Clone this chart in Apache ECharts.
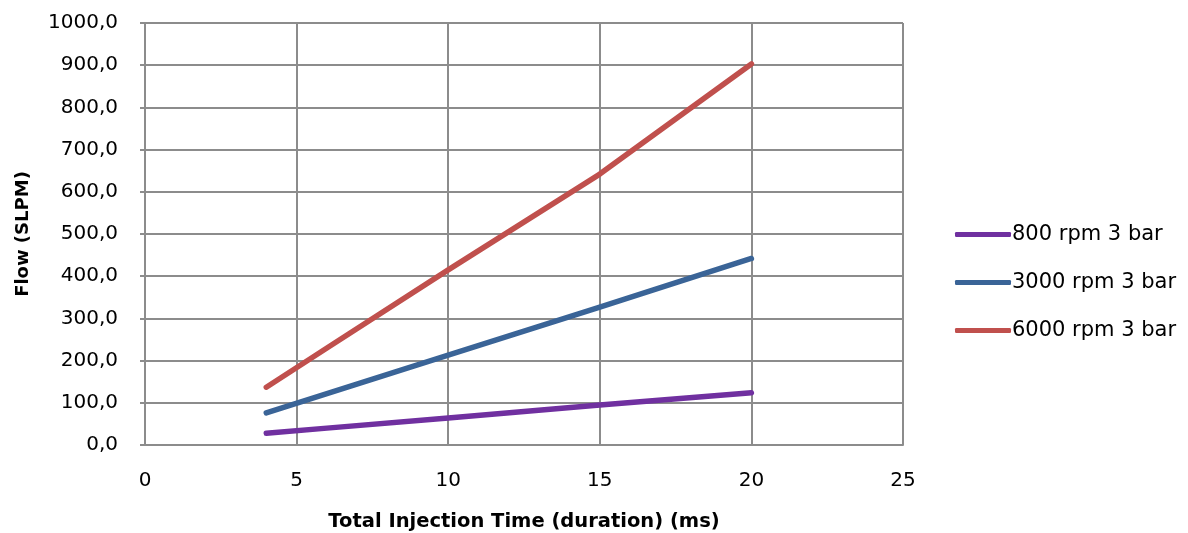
<!DOCTYPE html>
<html><head><meta charset="utf-8">
<script src="https://cdn.jsdelivr.net/npm/echarts@6/dist/echarts.min.js"></script>
<style>html,body{margin:0;padding:0;background:#fff}#c{width:1188px;height:533px}</style>
</head><body><div id="c"></div>
<script>
const times = [4, 6, 10, 15, 20];
const flow800 = [28, 40, 64, 95, 124];
const flow3000 = [76, 122, 213, 327, 442];
const flow6000 = [137, 230, 415, 642, 903];
const seriesNames = ['800 rpm 3 bar', '3000 rpm 3 bar', '6000 rpm 3 bar'];
const colors = ['#7030A0', '#3A6497', '#C0504D'];
const font = 'DejaVu Sans';
const pair = (ys) => times.map((t, i) => [t, ys[i]]);
const chart = echarts.init(document.getElementById('c'));
const mk = (name, ys, c) => ({
  name, type: 'line', data: pair(ys), showSymbol: false, symbol: 'none',
  lineStyle: { color: c, width: 5.5, cap: 'round', join: 'round' }, itemStyle: { color: c },
  animation: false
});
chart.setOption({
  animation: false,
  grid: { left: 145, right: 285, top: 23, bottom: 88, show: false, containLabel: false, outerBoundsMode: 'none' },
  xAxis: {
    type: 'value', min: 0, max: 25, interval: 5,
    name: 'Total Injection Time (duration) (ms)', nameLocation: 'middle', nameGap: 67,
    nameTextStyle: { fontFamily: font, fontSize: 19.5, fontWeight: 'bold', color: '#000' },
    axisLine: { show: true, lineStyle: { color: '#8c8c8c', width: 2 } },
    axisTick: { show: false },
    axisLabel: { fontFamily: font, fontSize: 20, color: '#000', margin: 26 },
    splitLine: { show: true, lineStyle: { color: '#8c8c8c', width: 2 } }
  },
  yAxis: {
    type: 'value', min: 0, max: 1000, interval: 100,
    name: 'Flow (SLPM)', nameLocation: 'middle', nameGap: 113, nameRotate: 90,
    nameTextStyle: { fontFamily: font, fontSize: 18, fontWeight: 'bold', color: '#000' },
    axisLine: { show: true, lineStyle: { color: '#8c8c8c', width: 2 } },
    axisTick: { show: true, length: 5, lineStyle: { color: '#8c8c8c', width: 2 } },
    axisLabel: { fontFamily: font, fontSize: 20, color: '#000', margin: 27,
      formatter: v => v.toFixed(1).replace('.', ',') },
    splitLine: { show: true, lineStyle: { color: '#8c8c8c', width: 2 } }
  },
  legend: {
    orient: 'vertical', left: 950, top: 219, itemGap: 27,
    itemWidth: 56, itemHeight: 5, icon: 'roundRect',
    textStyle: { fontFamily: font, fontSize: 21, color: '#000', padding: [0, 0, 0, -4] },
    data: seriesNames
  },
  series: [
    mk(seriesNames[0], flow800, colors[0]),
    mk(seriesNames[1], flow3000, colors[1]),
    mk(seriesNames[2], flow6000, colors[2])
  ]
});
</script></body></html>
